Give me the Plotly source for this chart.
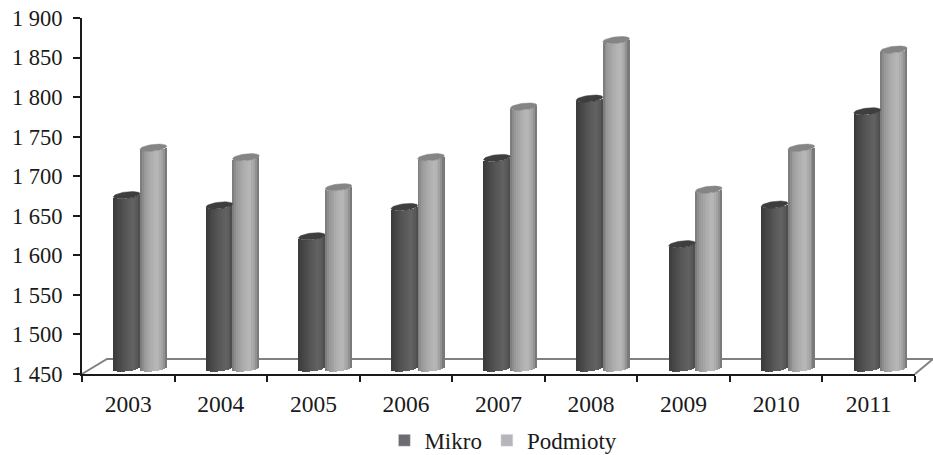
import numpy as np
import plotly.graph_objects as go

years = ["2003", "2004", "2005", "2006", "2007", "2008", "2009", "2010", "2011"]
mikro = [1676, 1663, 1624, 1661, 1723, 1798, 1614, 1664, 1782]
podmioty = [1736, 1724, 1686, 1724, 1788, 1872, 1683, 1736, 1860]
y_ticks = [1450, 1500, 1550, 1600, 1650, 1700, 1750, 1800, 1850, 1900]
y_labels = ["1 450", "1 500", "1 550", "1 600", "1 650", "1 700", "1 750", "1 800", "1 850", "1 900"]

FONT = "Liberation Serif"
BASE = 1457.6          # foot of the cylinders (sits on the 3-D floor)
HALF_W = 0.144         # half a cylinder, in category units
DEPTH_SHIFT = 0.127    # 3-D shift of the bars to the right of the category centre
ELL_H = 4.2            # half height of the end ellipses, in value units
ELL_TILT = 1.9         # rise of the ellipse toward its right end
N = 14


def ramp(stops, u):
    xs = [s[0] for s in stops]
    return "#%02x%02x%02x" % tuple(
        int(round(np.interp(u, xs, [s[1] for s in stops]))) for _ in range(3)
    )


series = [
    ("Mikro", mikro, -HALF_W, "#3e3e3e",
     [(-1, 58), (-0.6, 70), (0, 88), (0.5, 98), (0.8, 88), (1, 72)],
     "#6c6c70"),
    ("Podmioty", podmioty, HALF_W, "#858585",
     [(-1, 118), (-0.7, 150), (-0.2, 172), (0.3, 184), (0.7, 160), (1, 110)],
     "#b6b6ba"),
]

fig = go.Figure()
centers = np.arange(len(years)) + 0.5 + DEPTH_SHIFT
edges = np.linspace(-1, 1, N + 1)
for name, values, off, cap, stops, legend_color in series:
    vals = np.array(values, float)
    for k in range(N):
        u = (edges[k] + edges[k + 1]) / 2
        arc = ELL_TILT * u - ELL_H * np.sqrt(1 - u * u)
        tops = vals + arc
        foot = np.full_like(vals, BASE) + arc
        fig.add_trace(go.Bar(
            x=centers + off + u * HALF_W, y=tops - foot, base=foot,
            width=2 * HALF_W / N * 1.2,
            marker=dict(color=ramp(stops, u), line=dict(width=0)),
            showlegend=False, hoverinfo="skip",
        ))
    # end cap of each cylinder
    t = np.linspace(0, 2 * np.pi, 41)
    xs, ys = [], []
    for c, v in zip(centers + off, vals):
        xs += list(c + HALF_W * np.cos(t)) + [None]
        ys += list(v + ELL_TILT * np.cos(t) + ELL_H * np.sin(t)) + [None]
    fig.add_trace(go.Scatter(
        x=xs, y=ys, mode="lines", fill="toself", fillcolor=cap,
        line=dict(color=cap, width=0.5), showlegend=False, hoverinfo="skip",
    ))
    # legend entry
    fig.add_trace(go.Bar(x=[None], y=[None], name=name, marker=dict(color=legend_color)))

xmax = len(years)
fig.update_layout(
    width=933, height=455, autosize=False,
    margin=dict(l=82, r=18, t=18, b=81, autoexpand=False),
    paper_bgcolor="white", plot_bgcolor="white",
    barmode="overlay", bargap=0,
    font=dict(family=FONT, size=23.5, color="#1a1a1a"),
    xaxis=dict(
        range=[0, xmax], tickmode="array",
        tickvals=[i + 0.5 for i in range(xmax)], ticktext=years, ticks="",
        showgrid=False, zeroline=False, showline=True, linecolor="#1a1a1a", linewidth=2,
        ticklabelstandoff=8,
        minor=dict(tickmode="array", tickvals=list(range(xmax + 1)), ticks="outside",
                   ticklen=6, tickwidth=2, tickcolor="#1a1a1a", showgrid=False),
    ),
    yaxis=dict(
        range=[1450, 1900], tickmode="array", tickvals=y_ticks, ticktext=y_labels,
        tickfont=dict(family=FONT, size=22.5),
        ticks="outside", ticklen=7, tickwidth=2, tickcolor="#1a1a1a",
        showgrid=False, zeroline=False, showline=True, linecolor="#1a1a1a", linewidth=2,
        ticklabelstandoff=6, ticklabeloverflow="allow",
    ),
    legend=dict(orientation="h", x=0.363, xanchor="left",
                y=-0.126, yanchor="top",
                font=dict(family=FONT, size=23),
                bgcolor="rgba(0,0,0,0)"),
    # floor of the 3-D box: front-left corner, back-left, back-right, front-right
    shapes=[dict(
        type="path", xref="paper", yref="paper", layer="below",
        path="M 0,0 L 0.03,0.0421 L 1.0216,0.0421 L 1,0",
        line=dict(color="#808080", width=2),
    )],
)
fig.write_html("out.html", post_script="document.body.style.margin='0';",
               config={"displayModeBar": False})
